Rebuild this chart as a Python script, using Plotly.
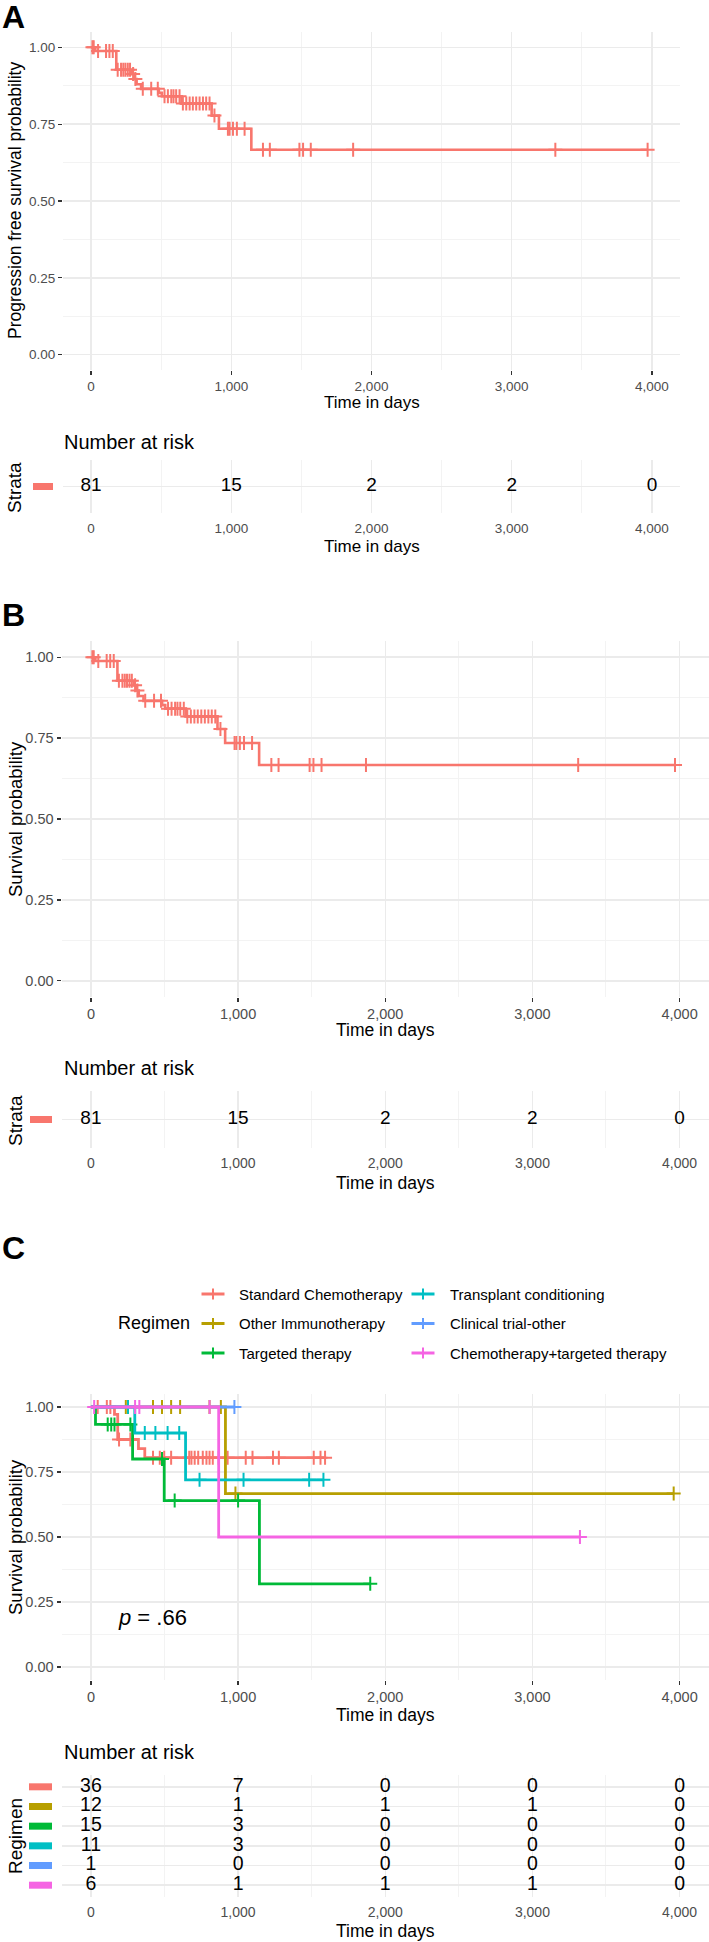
import numpy as np
import plotly.graph_objects as go

FONT = "Liberation Sans, Arial, Helvetica, sans-serif"
W, H = 709, 1942

# ---------------- Panels A & B: whole cohort (n = 81) ----------------
ab_step_times = [0, 30, 180, 292, 310, 325, 357, 484, 505, 645, 860, 912, 1143]
ab_step_surv = [1.0, 0.988, 0.927, 0.913, 0.897, 0.880, 0.865, 0.852, 0.841, 0.817, 0.778, 0.735, 0.667]
ab_end_time = 3969
ab_censor_times = [10, 19, 50, 107, 131, 155, 190, 214, 230, 245, 262, 278, 300, 316,
                   369, 429, 476, 524, 548, 572, 588, 607, 631, 655, 679, 703, 726, 750,
                   774, 798, 821, 845, 880, 976, 988, 1012, 1040, 1095, 1226, 1275, 1486,
                   1512, 1567, 1869, 3311, 3969]
risk_times = [0, 1000, 2000, 3000, 4000]
risk_tick_text = ["0", "1,000", "2,000", "3,000", "4,000"]
ab_risk = [81, 15, 2, 2, 0]
strata_color = "#F8766D"

# ---------------- Panel C: by regimen ----------------
regimens = ["Standard Chemotherapy", "Other Immunotherapy", "Targeted therapy",
            "Transplant conditioning", "Clinical trial-other", "Chemotherapy+targeted therapy"]
regimen_colors = ["#F8766D", "#B79F00", "#00BA38", "#00BFC4", "#619CFF", "#F564E3"]

chemo_step_t = [0, 160, 182, 323, 366]
chemo_step_s = [1.0, 0.972, 0.875, 0.840, 0.805]
chemo_censor = [46, 108, 132, 191, 268, 422, 468, 498, 545, 668, 683, 705, 729, 760, 785,
                806, 828, 868, 929, 1052, 1098, 1237, 1277, 1514, 1560, 1591]
chemo_end = 1591

immuno_step_t = [0, 914]
immuno_step_s = [1.0, 0.667]
immuno_censor = [237, 422, 483, 545, 606, 806, 883, 982, 3960]
immuno_end = 3960

targeted_step_t = [0, 31, 283, 498, 1145]
targeted_step_s = [1.0, 0.933, 0.80, 0.64, 0.32]
targeted_censor = [114, 138, 160, 268, 483, 569, 1000, 1898]
targeted_end = 1898

transplant_step_t = [0, 298, 643]
transplant_step_s = [1.0, 0.90, 0.72]
transplant_censor = [252, 366, 438, 521, 600, 738, 1037, 1483, 1580]
transplant_end = 1580

trial_step_t = [0]
trial_step_s = [1.0]
trial_censor = [975]
trial_end = 975

combo_step_t = [0, 868]
combo_step_s = [1.0, 0.5]
combo_censor = [22, 300, 329, 806, 3323]
combo_end = 3323

risk_chemo = [36, 7, 0, 0, 0]
risk_immuno = [12, 1, 1, 1, 0]
risk_targeted = [15, 3, 0, 0, 0]
risk_transplant = [11, 3, 0, 0, 0]
risk_trial = [1, 0, 0, 0, 0]
risk_combo = [6, 1, 1, 1, 0]

p_value_text = "<i>p</i> = .66"

groups = [
    (chemo_step_t, chemo_step_s, chemo_censor, chemo_end, risk_chemo),
    (immuno_step_t, immuno_step_s, immuno_censor, immuno_end, risk_immuno),
    (targeted_step_t, targeted_step_s, targeted_censor, targeted_end, risk_targeted),
    (transplant_step_t, transplant_step_s, transplant_censor, transplant_end, risk_transplant),
    (trial_step_t, trial_step_s, trial_censor, trial_end, risk_trial),
    (combo_step_t, combo_step_s, combo_censor, combo_end, risk_combo),
]


def px(x):
    return x / W


def py(y):
    return 1 - y / H


def surv_at(times, step_t, step_s):
    idx = np.searchsorted(np.array(step_t), np.array(times), side="right") - 1
    return [step_s[i] for i in idx]


fig = go.Figure()


def add_km(step_t, step_s, censor, end_t, color, xa, ya, width):
    fig.add_trace(go.Scatter(
        x=list(step_t) + [end_t], y=list(step_s) + [step_s[-1]],
        mode="lines", line=dict(color=color, width=width, shape="hv"),
        xaxis=xa, yaxis=ya, hoverinfo="skip", showlegend=False))
    fig.add_trace(go.Scatter(
        x=censor, y=surv_at(censor, step_t, step_s), mode="markers",
        marker=dict(symbol="cross-thin", size=10, color=color,
                    line=dict(width=2, color=color)),
        xaxis=xa, yaxis=ya, hoverinfo="skip", showlegend=False))


def add_risk(values, row, xa, ya, size):
    fig.add_trace(go.Scatter(
        x=risk_times, y=[row] * len(values), mode="text",
        text=[str(v) for v in values], textposition="middle center",
        textfont=dict(family=FONT, size=size, color="black"),
        xaxis=xa, yaxis=ya, hoverinfo="skip", showlegend=False, cliponaxis=False))


# Panel A and B curves
add_km(ab_step_times, ab_step_surv, ab_censor_times, ab_end_time, strata_color, "x", "y", 2.6)
add_risk(ab_risk, 0, "x2", "y2", 19)
add_km(ab_step_times, ab_step_surv, ab_censor_times, ab_end_time, strata_color, "x3", "y3", 2.6)
add_risk(ab_risk, 0, "x4", "y4", 19)

# Panel C
for i, (st, ss, cen, end, rk) in enumerate(groups):
    add_km(st, ss, cen, end, regimen_colors[i], "x5", "y5", 2.8)
for i, (st, ss, cen, end, rk) in enumerate(groups):
    add_risk(rk, i, "x6", "y6", 19.5)

MAJ = "#EBEBEB"
MIN = "#F3F3F3"
TICKC = "#4D4D4D"

panels = [
    # name, x px domain, y px domain (top, bottom), kind, nrows, tick size
    ("1", (63, 680), (32, 370), "plot", 0, 13.5),
    ("2", (63, 680), (460, 513), "risk", 1, 13.5),
    ("3", (61.5, 709), (641, 997), "plot", 0, 14.5),
    ("4", (61.5, 709), (1091, 1148), "risk", 1, 14),
    ("5", (61.5, 709), (1394, 1680), "plot", 0, 14.5),
    ("6", (61.5, 709), (1775, 1897), "risk", 6, 14),
]

layout_axes = {}
for name, (xl, xr), (yt, yb), kind, nrows, ts in panels:
    xkey = "xaxis" if name == "1" else "xaxis" + name
    ykey = "yaxis" if name == "1" else "yaxis" + name
    yref = "y" if name == "1" else "y" + name
    xref = "x" if name == "1" else "x" + name
    xa = dict(domain=[px(xl), px(xr)], range=[-200, 4200], anchor=yref,
              tickmode="array", tickvals=risk_times, ticktext=risk_tick_text,
              showgrid=True, gridcolor=MAJ, gridwidth=1.5, zeroline=False, showline=False,
              minor=dict(tickmode="array", tickvals=[500, 1500, 2500, 3500],
                         showgrid=True, gridcolor=MIN, gridwidth=1),
              tickfont=dict(family=FONT, size=ts, color=TICKC), fixedrange=True)
    if kind == "plot":
        xa.update(ticks="outside", ticklen=4, tickwidth=1.3, tickcolor="#333333")
        ya = dict(domain=[py(yb), py(yt)], range=[-0.05, 1.05], anchor=xref,
                  tickmode="array", tickvals=[0, 0.25, 0.5, 0.75, 1.0],
                  ticktext=["0.00", "0.25", "0.50", "0.75", "1.00"],
                  showgrid=True, gridcolor=MAJ, gridwidth=1.5, zeroline=False, showline=False,
                  minor=dict(tickmode="array", tickvals=[0.125, 0.375, 0.625, 0.875],
                             showgrid=True, gridcolor=MIN, gridwidth=1),
                  ticks="outside", ticklen=4, tickwidth=1.3, tickcolor="#333333",
                  tickfont=dict(family=FONT, size=ts, color=TICKC), fixedrange=True)
    else:
        xa.update(ticks="", ticklabelstandoff=5)
        ya = dict(domain=[py(yb), py(yt)], range=[nrows - 0.4, -0.6], anchor=xref,
                  tickmode="array", tickvals=list(range(nrows)), showticklabels=False,
                  showgrid=True, gridcolor=MAJ, gridwidth=1.5, zeroline=False, showline=False,
                  ticks="", fixedrange=True)
    layout_axes[xkey] = xa
    layout_axes[ykey] = ya

annotations = []


def ann(text, x, y, size, xanchor="center", yanchor="middle", angle=0, bold=False, color="black"):
    annotations.append(dict(
        text=("<b>%s</b>" % text) if bold else text, x=px(x), y=py(y), xref="paper", yref="paper",
        xanchor=xanchor, yanchor=yanchor, textangle=angle, showarrow=False,
        font=dict(family=FONT, size=size, color=color)))


# Panel letters
ann("A", 0, 17, 32, xanchor="left", bold=True)
ann("B", 0, 615, 32, xanchor="left", bold=True)
ann("C", 0, 1248, 32, xanchor="left", bold=True)

# Axis titles
ann("Progression free survival probability", 15, 201, 17.5, angle=-90)
ann("Time in days", 371.5, 403, 17)
ann("Number at risk", 62, 442, 20, xanchor="left")
ann("Strata", 15, 487, 19, angle=-90)
ann("Time in days", 371.5, 547, 17)

ann("Survival probability", 15, 819, 18.5, angle=-90)
ann("Time in days", 385, 1030, 17.5)
ann("Number at risk", 62, 1068, 20, xanchor="left")
ann("Strata", 15, 1120, 19, angle=-90)
ann("Time in days", 385, 1183, 17.5)

ann("Survival probability", 15, 1537, 18.5, angle=-90)
ann("Time in days", 385, 1715, 17.5)
ann("Number at risk", 62, 1752, 20, xanchor="left")
ann("Regimen", 15, 1836, 19, angle=-90)
ann("Time in days", 385, 1931, 17.5)

annotations.append(dict(text=p_value_text, x=170, y=0.19, xref="x5", yref="y5",
                        xanchor="left", yanchor="middle", showarrow=False,
                        font=dict(family=FONT, size=22, color="black")))

# Legend for panel C
ann("Regimen", 116, 1323, 18, xanchor="left")
shapes = []
key_cx = [213, 423]
text_x = [237, 448]
row_y = [1294, 1323.5, 1353]
for i, name in enumerate(regimens):
    col, row = i // 3, i % 3
    cx, cy = key_cx[col], row_y[row]
    c = regimen_colors[i]
    shapes.append(dict(type="line", xref="paper", yref="paper",
                       x0=px(cx - 11.5), x1=px(cx + 11.5), y0=py(cy), y1=py(cy),
                       line=dict(color=c, width=3)))
    shapes.append(dict(type="line", xref="paper", yref="paper",
                       x0=px(cx), x1=px(cx), y0=py(cy - 5.5), y1=py(cy + 5.5),
                       line=dict(color=c, width=2)))
    ann(name, text_x[col], cy, 15, xanchor="left")

# Coloured strata bars in the risk tables
def risk_bar(yref, row, color, x0, x1):
    shapes.append(dict(type="rect", xref="paper", yref=yref, ysizemode="pixel", yanchor=row,
                       x0=px(x0), x1=px(x1), y0=-3.5, y1=3.5,
                       fillcolor=color, line=dict(width=0)))

risk_bar("y2", 0, strata_color, 33, 53)
risk_bar("y4", 0, strata_color, 30, 52)
for i, c in enumerate(regimen_colors):
    risk_bar("y6", i, c, 29, 52)

fig.update_layout(width=W, height=H, margin=dict(l=0, r=0, t=0, b=0), autosize=False,
                  paper_bgcolor="white", plot_bgcolor="white", showlegend=False,
                  hovermode=False, font=dict(family=FONT, color="black"),
                  annotations=annotations, shapes=shapes, **layout_axes)

fig.write_html("out.html", config={"displayModeBar": False, "staticPlot": True},
               post_script="document.body.style.margin='0';document.body.style.padding='0';"
                           "document.body.style.overflow='hidden';")
